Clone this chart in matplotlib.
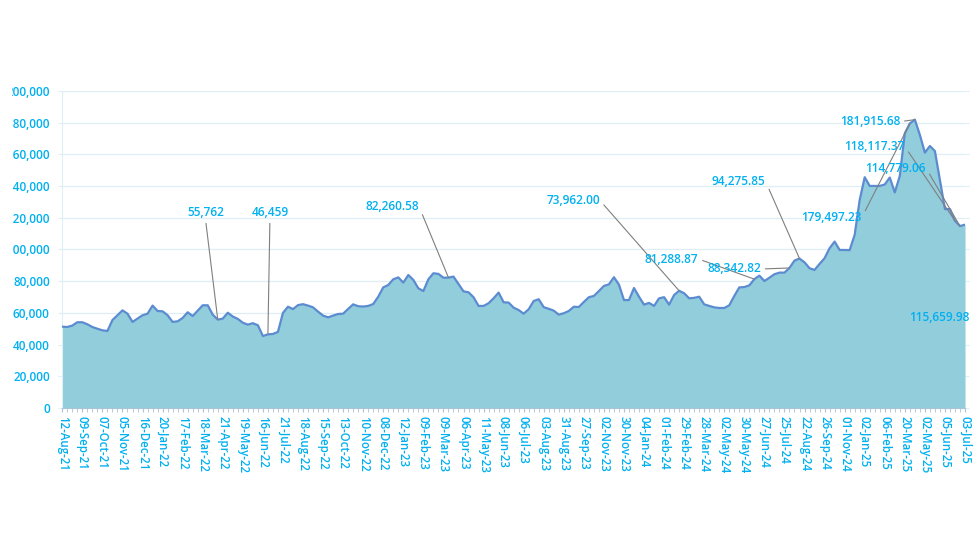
import matplotlib.pyplot as plt
from matplotlib.patches import Rectangle
from matplotlib.ticker import FuncFormatter

# weekly values
values = [
    51300, 51100, 52000, 54100, 54100, 52800, 51100, 50000, 49000, 48600,
    55500, 58500, 61600, 59500, 54300, 56400, 58500, 59500, 64600, 61200,
    61000, 58500, 54300, 54700, 56800, 60400, 58000, 61400, 64800, 64800,
    58900, 55762, 56400, 60100, 57700, 56200, 53800, 52600, 53500, 52200,
    45400, 46459, 46700, 48000, 60000, 63900, 62400, 64900, 65500, 64600,
    63500, 60800, 58300, 57200, 58300, 59300, 59500, 62500, 65400, 64200,
    64000, 64400, 65600, 70200, 76100, 77600, 81200, 82400, 79100, 83900,
    80800, 75500, 73800, 81200, 85000, 84600, 82200, 82260.58, 82900, 78200,
    73600, 73000, 69900, 64400, 64400, 66100, 69200, 72800, 66700, 66500,
    63300, 61800, 59500, 62300, 67500, 68600, 63600, 62600, 61400, 58900,
    59800, 61200, 63900, 63700, 66900, 69900, 70700, 73800, 77000, 78000,
    82500, 77800, 68100, 68100, 75700, 70200, 65200, 66300, 64400, 69200,
    69900, 65200, 71300, 73962.00, 72400, 69200, 69500, 70200, 65400, 64400,
    63500, 63100, 63100, 64800, 70700, 76100, 76300, 77400, 81288.87, 83500,
    80100, 82200, 84400, 85400, 85400, 88342.82, 93000, 94275.85, 91900, 88200,
    87100, 90900, 94500, 100800, 105000, 99700, 99700, 99600, 109200, 131200,
    145600, 140100, 140100, 140100, 141000, 145400, 136000, 146400, 173300, 179497.23,
    181915.68, 172300, 161100, 165300, 162100, 143800, 125500, 125500, 118117.37, 114779.06,
    115659.98,
]

# one label every 4 points
tick_labels = [
    '12-Aug-21', '09-Sep-21', '07-Oct-21', '05-Nov-21', '16-Dec-21', '20-Jan-22',
    '17-Feb-22', '18-Mar-22', '21-Apr-22', '19-May-22', '16-Jun-22', '21-Jul-22',
    '18-Aug-22', '15-Sep-22', '13-Oct-22', '10-Nov-22', '08-Dec-22', '12-Jan-23',
    '09-Feb-23', '09-Mar-23', '06-Apr-23', '11-May-23', '08-Jun-23', '06-Jul-23',
    '03-Aug-23', '31-Aug-23', '27-Sep-23', '02-Nov-23', '30-Nov-23', '04-Jan-24',
    '01-Feb-24', '29-Feb-24', '28-Mar-24', '02-May-24', '30-May-24', '27-Jun-24',
    '25-Jul-24', '22-Aug-24', '26-Sep-24', '01-Nov-24', '02-Jan-25', '06-Feb-25',
    '20-Mar-25', '02-May-25', '05-Jun-25', '03-Jul-25',
]

# labelled points and how many decimals they show
ann_index = [31, 41, 77, 123, 138, 145, 147, 169, 170, 178, 179, 180]
ann_decimals = [0, 0, 2, 2, 2, 2, 2, 2, 2, 2, 2, 2]

# label placement (x in points, y in data units) and where the leader leaves the text
ann_pos = [(28.55, 123200), (41.4, 123200), (65.8, 127000), (101.9, 130800),
           (121.5, 94000), (134.0, 87700), (134.9, 142800), (153.4, 120300),
           (161.1, 180700), (162.0, 164900), (166.2, 151300), (174.9, 57000)]
ann_relpos = [(0.5, 0), (0.5, 0), (1, 0.5), (1, 0.5), (1, 0.5), (1, 0.5),
              (1, 0.5), (1, 0.5), (1, 0.5), (1, 0.5), (1, 0.5), None]

cyan = '#00B0F0'
fillColor = '#92CDDC'
lineColor = '#5B8BD0'
gridColor = '#DDEFF5'

plt.rcParams['font.family'] = ['Open Sans', 'DejaVu Sans']
plt.rcParams['font.weight'] = 600

fig = plt.figure(figsize=(9.74, 5.47), dpi=100)
ax = fig.add_axes([62.3 / 974, 139 / 547, 902.7 / 974, 317 / 547])

x = list(range(len(values)))
ax.fill_between(x, values, 0, color=fillColor, lw=0, zorder=2)
ax.plot(x, values, color=lineColor, lw=1.6, zorder=3)

ax.set_xlim(0, len(values) - 1)
ax.set_ylim(0, 200000)
ax.set_yticks(range(0, 200001, 20000))
ax.yaxis.set_major_formatter(FuncFormatter(lambda v, p: '{:,.0f}'.format(v)))
ax.grid(axis='y', color=gridColor, lw=0.9, zorder=0)

ax.set_xticks(range(0, len(values), 4))
ax.set_xticklabels(tick_labels, rotation=270, fontsize=8.3, color=cyan)
ax.set_xticks(x, minor=True)
ax.tick_params(axis='x', which='both', length=3, color='#A9C4D6', pad=2.5)
ax.tick_params(axis='y', length=3, color=gridColor, labelsize=8.5,
               labelcolor=cyan, pad=6, right=True)

for s in ['top', 'right']:
    ax.spines[s].set_visible(False)
ax.spines['left'].set_color(gridColor)
ax.spines['bottom'].set_color('#A9C4D6')
ax.spines['bottom'].set_linewidth(0.8)

for i, d, pos, rp in zip(ann_index, ann_decimals, ann_pos, ann_relpos):
    txt = ('{:,.' + str(d) + 'f}').format(values[i])
    if rp is None:
        ax.annotate(txt, xy=pos, ha='center', va='center', fontsize=8.6,
                    color=cyan, zorder=5, annotation_clip=False)
    else:
        ax.annotate(txt, xy=(i, values[i]), xytext=pos, ha='center', va='center',
                    fontsize=8.6, color=cyan, zorder=5, annotation_clip=False,
                    arrowprops=dict(arrowstyle='-', color='#7F7F7F', lw=0.8,
                                    relpos=rp, shrinkA=1, shrinkB=0))

# the left edge of the y labels is cut off in the original
fig.add_artist(Rectangle((0, 0), 11 / 974, 1, transform=fig.transFigure,
                         color='white', zorder=10))

plt.savefig('out.png', dpi=100)
